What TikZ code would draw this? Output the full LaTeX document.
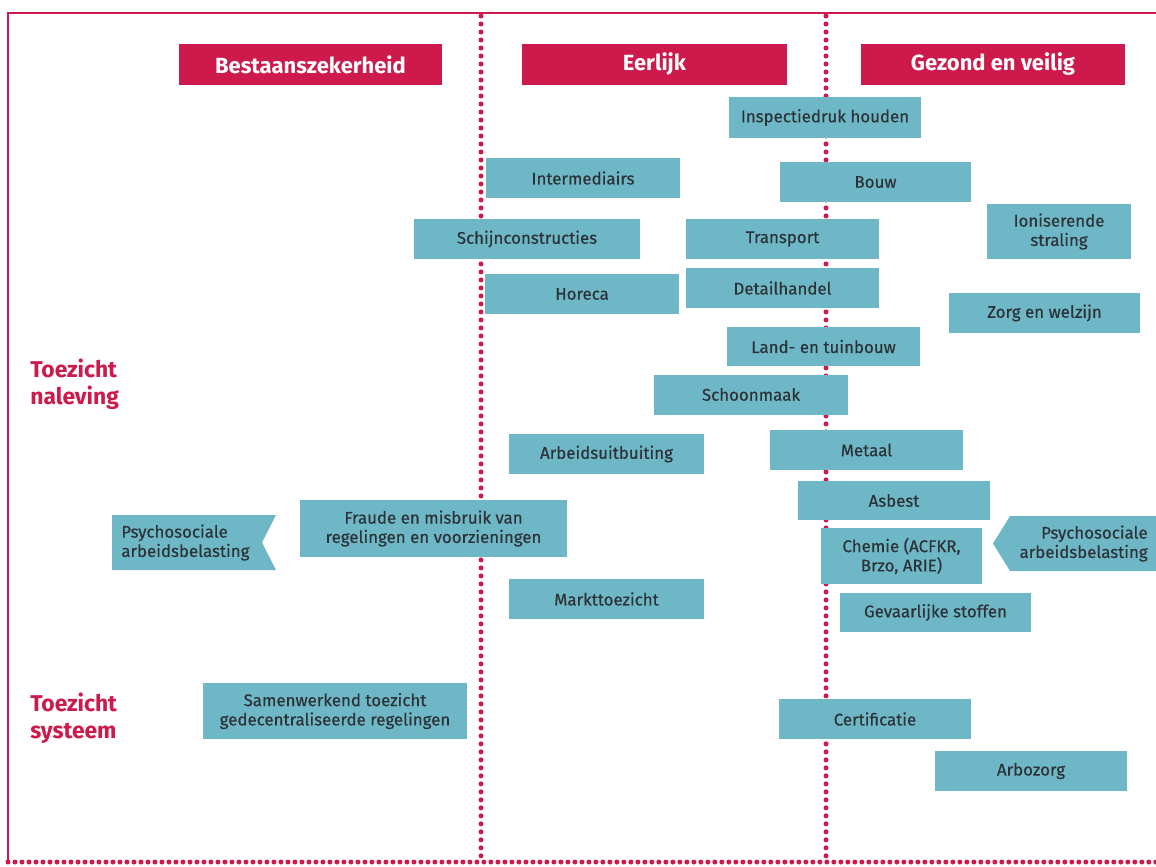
\documentclass[tikz,border=0pt]{standalone}
\usepackage{fontspec}
\setmainfont{Fira Sans}
\newfontfamily\boxfont{Fira Sans}[UprightFeatures={FakeBold=0.4}]
\usepackage{tikz}
\usetikzlibrary{calc}
\definecolor{crimson}{RGB}{205,25,75}
\definecolor{tealbox}{RGB}{110,183,199}
\definecolor{boxtext}{RGB}{45,50,55}

\begin{document}
\begin{tikzpicture}[
    x=0.02cm, y=-0.02cm,
    frame line/.style={draw=crimson, line width=0.3mm},
    dot line/.style={draw=crimson, line width=1mm, line cap=round, dash pattern=on 0pt off 1.6mm},
    header/.style={fill=crimson, text=white, font=\fontsize{12.5}{14}\selectfont\bfseries,
        minimum width=52.6mm, minimum height=8.2mm, inner sep=0pt},
    tbox/.style={fill=tealbox, text=boxtext, font=\boxfont\fontsize{9.6}{11}\selectfont,
        minimum width=38.6mm, minimum height=8mm, inner sep=0pt, align=center},
    wd/.style={minimum width=#1*0.2mm},
    ht/.style={minimum height=#1*0.2mm},
    side label/.style={text=crimson, font=\fontsize{13}{15}\selectfont\bfseries,
        anchor=north west, align=left, inner sep=0pt},
    every node/.style={color=black}
    ]

    \useasboundingbox[fill=white] (0,0) rectangle (1156,866);

    % frame corners and column lines
    \coordinate (tl) at (8,13);
    \coordinate (tr) at (1160,13);
    \coordinate (bl) at (8,862);
    \coordinate (br) at (1160,862);
    \coordinate (c1top) at (481,16);
    \coordinate (c1bot) at (481,858);
    \coordinate (c2top) at (826,16);
    \coordinate (c2bot) at (826,858);
    % frame
    \draw[frame line] (tr) -- (tl) -- (bl);
    \draw[dot line, dash pattern=on 0pt off 1.4mm] (bl) -- (br);
    \draw[dot line] (c1top) -- (c1bot);
    \draw[dot line] (c2top) -- (c2bot);

    % column headers
    \node[header] (bestaan) at (310.5,64.5) {Bestaanszekerheid};
    \node[header, wd=265] (eerlijk) at (654.5,64.5) {Eerlijk};
    \node[header, wd=264] (gezond) at (993,64.5) {Gezond en veilig};

    % row labels
    \node[side label] (naleving) at (30,359) {Toezicht\\naleving};
    \node[side label] (systeem) at (30,693) {Toezicht\\systeem};

    % themes
    \node[tbox, wd=192, ht=41] (inspectie) at (825,117.5) {Inspectiedruk houden};
    \node[tbox, wd=194] (intermed) at (583,178) {Intermediairs};
    \node[tbox, wd=191] (bouw) at (875.5,182) {Bouw};
    \node[tbox, wd=226] (schijn) at (527,239) {Schijnconstructies};
    \node[tbox] (transport) at (782.5,239) {Transport};
    \node[tbox, wd=144, ht=55] (ionis) at (1059,231.5) {Ioniserende\\straling};
    \node[tbox, wd=194] (horeca) at (582,294) {Horeca};
    \node[tbox] (detail) at (782.5,288) {Detailhandel};
    \node[tbox, wd=191] (zorg) at (1044.5,313) {Zorg en welzijn};
    \node[tbox, ht=39] (land) at (823.5,346.5) {Land- en tuinbouw};
    \node[tbox, wd=194] (schoon) at (751,394.5) {Schoonmaak};
    \node[tbox, wd=195] (uitbuit) at (606.5,454) {Arbeidsuitbuiting};
    \node[tbox] (metaal) at (866.5,450) {Metaal};
    \node[tbox, wd=192, ht=39] (asbest) at (894,500.5) {Asbest};
    \node[tbox, wd=267, ht=57] (fraude) at (433.5,528.5) {Fraude en misbruik van\\regelingen en voorzieningen};
    \node[tbox, wd=161, ht=56] (chemie) at (901.5,556) {Chemie (ACFKR,\\Brzo, ARIE)};
    \node[tbox, wd=195] (markt) at (606.5,599) {Markttoezicht};
    \node[tbox, wd=191, ht=39] (gevaar) at (935.5,612.5) {Gevaarlijke stoffen};
    \node[tbox, wd=264, ht=56] (samen) at (335,711) {Samenwerkend toezicht\\gedecentraliseerde regelingen};
    \node[tbox, wd=192] (certif) at (875,719) {Certificatie};
    \node[tbox, wd=192] (arbo) at (1031,771) {Arbozorg};

    % psychosocial flags
    \fill[tealbox] (112,515) -- (276,515) -- (262,542.5) -- (276,570) -- (112,570) -- cycle;
    \node[tbox, fill=none, minimum width=0pt, minimum height=0pt, anchor=west, align=left]
        (psyleft) at (121,542.5) {Psychosociale\\arbeidsbelasting};
    \fill[tealbox] (993,543.5) -- (1010,516) -- (1160,516) -- (1160,571) -- (1010,571) -- cycle;
    \node[tbox, fill=none, minimum width=0pt, minimum height=0pt, anchor=east, align=right]
        (psyright) at (1148,543.5) {Psychosociale\\arbeidsbelasting};
\end{tikzpicture}
\end{document}
